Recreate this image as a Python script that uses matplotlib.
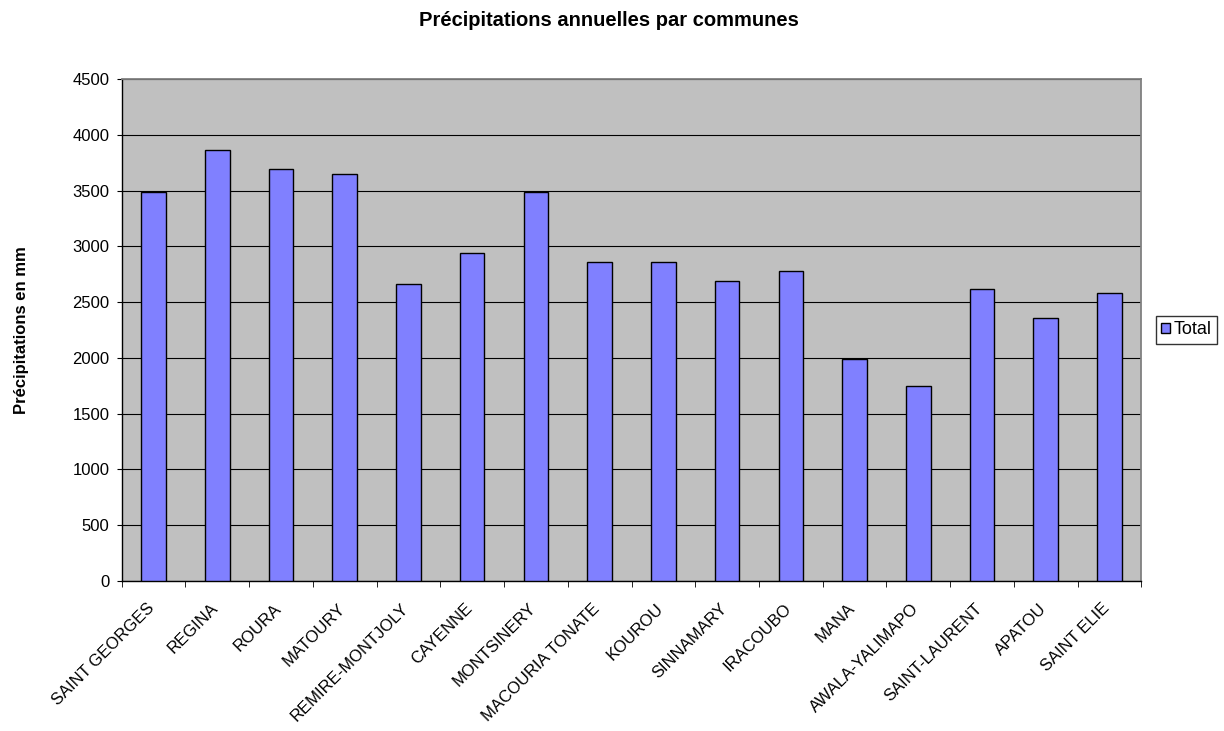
import matplotlib
matplotlib.use("Agg")
import matplotlib.pyplot as plt
import matplotlib.transforms as mtransforms
import numpy as np

communes = ["SAINT GEORGES", "REGINA", "ROURA", "MATOURY", "REMIRE-MONTJOLY",
            "CAYENNE", "MONTSINERY", "MACOURIA TONATE", "KOUROU", "SINNAMARY",
            "IRACOUBO", "MANA", "AWALA-YALIMAPO", "SAINT-LAURENT", "APATOU", "SAINT ELIE"]
total = [3490, 3868, 3692, 3647, 2666, 2937, 3490, 2858, 2862, 2690,
         2783, 1994, 1746, 2619, 2359, 2583]
yticks = [0, 500, 1000, 1500, 2000, 2500, 3000, 3500, 4000, 4500]

plt.rcParams['font.family'] = ['Liberation Sans', 'DejaVu Sans']

W, H = 1224, 731
fig = plt.figure(figsize=(W / 100, H / 100), dpi=100)
left, right, top, bottom = 121.7, 1141.3, 79, 581
ax = fig.add_axes([left / W, (H - bottom) / H, (right - left) / W, (bottom - top) / H])
ax.set_facecolor('#C0C0C0')

x = np.arange(len(communes))
ax.bar(x, total, width=0.385, color='#8080FF', edgecolor='black', linewidth=1.0,
       label='Total', zorder=3)

ax.set_xlim(-0.5, len(communes) - 0.5)
ax.set_ylim(0, 4500)
ax.set_yticks(yticks)
ax.set_yticklabels([str(v) for v in yticks], fontsize=12)
ax.yaxis.grid(True, color='black', linewidth=0.8, zorder=1)
ax.set_axisbelow(True)

ax.set_xticks(x)
ax.set_xticklabels(communes, rotation=45, ha='right', va='center',
                   rotation_mode='anchor', fontsize=12)
ax.tick_params(axis='x', which='major', length=0, pad=18)
offset = mtransforms.ScaledTranslation(-2 / 100, 0, fig.dpi_scale_trans)
for lbl in ax.get_xticklabels():
    lbl.set_transform(lbl.get_transform() + offset)
ax.set_xticks(np.arange(-0.5, len(communes)), minor=True)
ax.tick_params(axis='x', which='minor', length=4, direction='out', color='black')
ax.tick_params(axis='y', length=3.3, direction='out', pad=5.5)

for side in ['top', 'right']:
    ax.spines[side].set_color('#808080')
    ax.spines[side].set_linewidth(1.3)
for side in ['left', 'bottom']:
    ax.spines[side].set_color('black')
    ax.spines[side].set_linewidth(1.0)

fig.text(22 / W, 1 - 330 / H, 'Précipitations en mm', rotation=90, ha='center', va='center',
         fontsize=12, fontweight='bold')
fig.text(609 / W, 1 - 20 / H, 'Précipitations annuelles par communes', ha='center', va='center',
         fontsize=14.5, fontweight='bold')

leg = fig.legend(loc='center left', bbox_to_anchor=(1156 / W, 1 - 330 / H), fontsize=13,
                 frameon=True, fancybox=False, edgecolor='black', handlelength=0.5,
                 handleheight=0.5, handletextpad=0.2, borderpad=0.3, borderaxespad=0)
leg.get_frame().set_linewidth(1.0)

fig.savefig('out.png', dpi=100)
